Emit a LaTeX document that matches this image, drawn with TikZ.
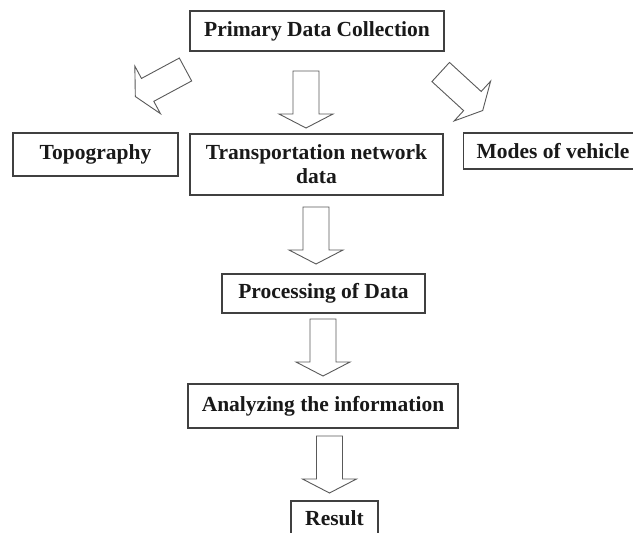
\documentclass[tikz,border=0pt]{standalone}
\usepackage{fontspec}
\setmainfont{Liberation Serif}
\begin{document}
\begin{tikzpicture}[x=1pt,y=-1pt,
  box/.style={draw=black!75, line width=1.2pt, fill=white, inner sep=0pt,
    font=\fontsize{21.5}{24}\selectfont\bfseries, text=black!90, align=center},
  arrowline/.style={draw=black!65, line width=0.9pt, fill=white, line join=miter},
  pics/blockarrow/.style={code={
    \draw[arrowline] (0,-13) -- (43,-13) -- (43,-27) -- (57,0) -- (43,27)
      -- (43,13) -- (0,13) -- cycle;
  }}]
\useasboundingbox (0,0) rectangle (633,533);
\clip (0,0) rectangle (633,533);

% boxes
\node[box, minimum width=254pt, minimum height=40pt] (primary) at (317,31) {Primary Data Collection};
\node[box, minimum width=165pt, minimum height=43pt] (topo) at (95.5,154.5) {Topography};
\node[box, minimum width=253pt, minimum height=61pt] (trans) at (316.5,164.5) {Transportation network\\data};
\node[box, anchor=west, minimum height=36pt, inner xsep=13pt] (modes) at (463,151) {Modes of vehicle};
\node[box, minimum width=203pt, minimum height=39pt] (proc) at (323.5,293.5) {Processing of Data};
\node[box, minimum width=270pt, minimum height=44pt] (anal) at (323,406) {Analyzing the information};
\node[box, minimum width=87pt, minimum height=34pt] (result) at (334.5,518) {Result};

% tails of the hollow block arrows
\coordinate (tail-topo)  at (185.5,69.5);
\coordinate (tail-trans) at (306,71);
\coordinate (tail-modes) at (440.7,72);
\coordinate (tail-proc)  at (316,207);
\coordinate (tail-anal)  at (323,319);
\coordinate (tail-res)   at (329.5,436);

\pic[rotate=208.3] at (tail-topo) {blockarrow};
\pic[rotate=-90]   at (tail-trans) {blockarrow};
\pic[rotate=-42.5] at (tail-modes) {blockarrow};
\pic[rotate=-90]   at (tail-proc) {blockarrow};
\pic[rotate=-90]   at (tail-anal) {blockarrow};
\pic[rotate=-90]   at (tail-res) {blockarrow};
\end{tikzpicture}
\end{document}
